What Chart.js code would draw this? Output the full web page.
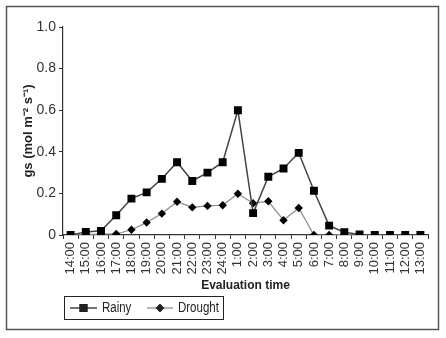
<!DOCTYPE html>
<html lang="en">
<head>
  <meta charset="UTF-8">
  <title>gs chart</title>
  <script src="https://cdn.jsdelivr.net/npm/chart.js"></script>
  <style>
    html, body { margin: 0; padding: 0; background: #fff; }
    #box { width: 446px; height: 338px; position: relative; }
  </style>
</head>
<body>
<div id="box"><canvas id="grafico"></canvas></div>
<script>
// dados
const horas = ['14:00','15:00','16:00','17:00','18:00','19:00','20:00','21:00','22:00','23:00','24:00',
  '1:00','2:00','3:00','4:00','5:00','6:00','7:00','8:00','9:00','10:00','11:00','12:00','13:00'];
const chuvoso = [0, 0.015, 0.02, 0.095, 0.175, 0.205, 0.27, 0.35, 0.26, 0.30, 0.35,
  0.60, 0.105, 0.28, 0.32, 0.395, 0.213, 0.045, 0.013, 0.003, 0, 0, 0, 0];
const seca = [0, 0.002, 0.004, 0.005, 0.025, 0.06, 0.103, 0.16, 0.133, 0.14, 0.143,
  0.198, 0.153, 0.162, 0.071, 0.13, 0, 0, 0.003, 0, 0, 0, 0, 0];
const yTicks = [0, 0.2, 0.4, 0.6, 0.8, 1.0];

const fonte = '"Liberation Sans Narrow", "Arial Narrow", "Liberation Sans", Arial, sans-serif';

// moldura externa
const moldura = {
  id: 'moldura',
  afterDraw(chart) {
    const ctx = chart.ctx;
    ctx.save();
    ctx.strokeStyle = '#555';
    ctx.lineWidth = 1.5;
    ctx.strokeRect(6.5, 6.5, 432, 323);
    ctx.restore();
  }
};

// legenda no estilo do excel
const legenda = {
  id: 'legenda',
  afterDraw(chart) {
    const ctx = chart.ctx;
    const ds = chart.data.datasets;
    ctx.save();
    ctx.strokeStyle = '#222';
    ctx.lineWidth = 1;
    ctx.strokeRect(64.5, 296.5, 159, 23);
    const itens = [
      { x1: 70, x2: 97, tx: 102 },
      { x1: 147, x2: 173, tx: 178 }
    ];
    itens.forEach((it, i) => {
      const d = ds[i];
      const y = 308;
      ctx.strokeStyle = d.borderColor;
      ctx.lineWidth = d.borderWidth;
      ctx.beginPath();
      ctx.moveTo(it.x1, y);
      ctx.lineTo(it.x2, y);
      ctx.stroke();
      Chart.helpers.drawPoint(ctx, {
        pointStyle: d.pointStyle,
        radius: d.pointRadius,
        borderWidth: 0
      }, (it.x1 + it.x2) / 2, y);
      ctx.fillStyle = '#222';
      ctx.fill();
      // texto estreito
      ctx.save();
      ctx.translate(it.tx, y);
      ctx.scale(0.82, 1);
      ctx.font = '14px ' + fonte;
      ctx.textBaseline = 'middle';
      ctx.textAlign = 'left';
      ctx.fillText(d.label, 0, 0);
      ctx.restore();
    });
    ctx.restore();
  }
};

new Chart(document.getElementById('grafico'), {
  type: 'line',
  data: {
    labels: horas,
    datasets: [
      {
        label: 'Rainy',
        data: chuvoso,
        borderColor: '#444',
        borderWidth: 1.5,
        pointStyle: 'rect',
        pointRadius: 5.6,
        pointBackgroundColor: '#000',
        pointBorderColor: '#000',
        pointBorderWidth: 0,
        tension: 0
      },
      {
        label: 'Drought',
        data: seca,
        borderColor: '#888',
        borderWidth: 1.2,
        pointStyle: 'rectRot',
        pointRadius: 4.2,
        pointBackgroundColor: '#000',
        pointBorderColor: '#000',
        pointBorderWidth: 0,
        tension: 0
      }
    ]
  },
  options: {
    responsive: true,
    maintainAspectRatio: false,
    animation: false,
    layout: { padding: { left: 16, right: 18, top: 27, bottom: 43 } },
    plugins: {
      legend: { display: false },
      tooltip: { enabled: false }
    },
    scales: {
      x: {
        offset: true,
        afterFit(scale) { scale.height = 60; },
        grid: { display: true, drawOnChartArea: false, offset: true, tickLength: 4, color: '#333' },
        border: { color: '#333', width: 1.2 },
        ticks: {
          autoSkip: false, minRotation: 90, maxRotation: 90, padding: 3,
          color: '#333', font: { family: fonte, size: 13 }
        },
        title: {
          display: true, text: 'Evaluation time', color: '#222',
          font: { family: fonte, size: 12, weight: 'bold' },
          padding: { top: 0, bottom: 2 }
        }
      },
      y: {
        min: 0,
        max: 1,
        afterFit(scale) { scale.width = 47; },
        afterBuildTicks(scale) { scale.ticks = yTicks.map(v => ({ value: v })); },
        grid: { display: true, drawOnChartArea: false, tickLength: 4, color: '#333' },
        border: { color: '#333', width: 1.2 },
        ticks: {
          padding: 3, color: '#333', font: { family: fonte, size: 14 },
          callback: v => v === 0 ? '0' : v.toFixed(1)
        },
        title: {
          display: true, text: 'gs (mol m⁻² s⁻¹)', color: '#222',
          font: { family: fonte, size: 13, weight: 'bold' },
          padding: { top: 5, bottom: 0 }
        }
      }
    }
  },
  plugins: [moldura, legenda]
});
</script>
</body>
</html>
